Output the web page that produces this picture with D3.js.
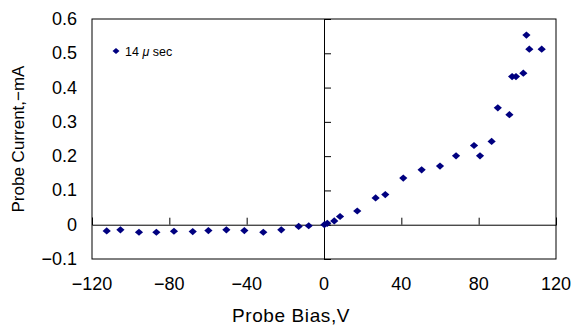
<!DOCTYPE html>
<html>
<head>
<meta charset="utf-8">
<script src="https://cdn.jsdelivr.net/npm/d3@7"></script>
<style>
  body { margin: 0; background: #fff; }
  text { font-family: "Liberation Sans", Arial, sans-serif; fill: #000; }
</style>
</head>
<body>
<div class="canvas"></div>
<script>
// probe bias (V) and probe current (mA)
const bias = [-112.4, -105.3, -95.7, -86.7, -77.6, -67.9, -59.8, -50.5, -41.2, -31.4, -22.1, -13.1, -7.9,
  0.2, 1.7, 5.3, 8.3, 17.2, 26.7, 31.7, 41.0, 50.5, 60.0, 68.3, 77.6, 80.7, 86.7, 89.9, 95.9, 97.3, 99.3,
  103.1, 104.7, 106.2, 112.6];
const current = [-0.018, -0.015, -0.022, -0.022, -0.019, -0.020, -0.017, -0.015, -0.017, -0.022, -0.015, -0.005, -0.003,
  0.000, 0.004, 0.011, 0.024, 0.040, 0.078, 0.088, 0.136, 0.160, 0.171, 0.201, 0.231, 0.201, 0.243, 0.341, 0.321, 0.432, 0.432,
  0.442, 0.553, 0.512, 0.512];
const xTicks = [-120, -80, -40, 0, 40, 80, 120];
const yTicks = [-0.1, 0, 0.1, 0.2, 0.3, 0.4, 0.5, 0.6];

const width = 575, height = 327;
const margin = {top: 19, right: 19, bottom: 68, left: 92};
const graphWidth = width - margin.left - margin.right;
const graphHeight = height - margin.top - margin.bottom;

const svg = d3.select('.canvas')
  .append('svg')
    .attr('width', width)
    .attr('height', height);

const graph = svg.append('g')
  .attr('transform', `translate(${margin.left}, ${margin.top})`);

const x = d3.scaleLinear().domain([-120, 120]).range([0, graphWidth]);
const y = d3.scaleLinear().domain([-0.1, 0.6]).range([graphHeight, 0]);

const fmt = d => d < 0 ? '\u2212' + Math.abs(d) : String(d);

// plot frame
graph.append('rect')
  .attr('width', graphWidth)
  .attr('height', graphHeight)
  .attr('fill', 'none')
  .attr('stroke', '#000')
  .attr('stroke-width', 1);

// axes crossing at zero, ticks pointing inward
const xAxisGroup = graph.append('g')
  .attr('transform', `translate(0, ${y(0)})`)
  .call(d3.axisTop(x).tickValues(xTicks).tickSize(7).tickFormat(''));
const yAxisGroup = graph.append('g')
  .attr('transform', `translate(${x(0)}, 0)`)
  .call(d3.axisRight(y).tickValues(yTicks).tickSize(7).tickFormat(''));
[xAxisGroup, yAxisGroup].forEach(g => {
  g.select('.domain').attr('stroke', '#000');
  g.selectAll('.tick line').attr('stroke', '#000');
});

// tick labels on the frame edges
graph.selectAll('.xlab')
  .data(xTicks)
  .enter().append('text')
    .attr('x', d => x(d))
    .attr('y', graphHeight + 31)
    .attr('text-anchor', 'middle')
    .attr('font-size', 18)
    .text(fmt);

graph.selectAll('.ylab')
  .data(yTicks)
  .enter().append('text')
    .attr('x', -15)
    .attr('y', d => y(d) + 6)
    .attr('text-anchor', 'end')
    .attr('font-size', 18)
    .text(fmt);

// points (squat diamonds like the original)
const diamond = r => `M0,${-r}L${r + 0.5},0L0,${r}L${-r - 0.5},0Z`;
graph.selectAll('path.pt')
  .data(bias.map((b, i) => ({b, c: current[i]})))
  .enter().append('path')
    .attr('class', 'pt')
    .attr('d', diamond(3.6))
    .attr('fill', '#000080')
    .attr('transform', d => `translate(${x(d.b)}, ${y(d.c)})`);

// legend
graph.append('path')
  .attr('d', diamond(3))
  .attr('fill', '#000080')
  .attr('transform', 'translate(24, 32)');
const leg = graph.append('text')
  .attr('x', 33)
  .attr('y', 37)
  .attr('font-size', 12.5);
leg.append('tspan').text('14 ');
leg.append('tspan').attr('font-style', 'italic').text('\u03bc');
leg.append('tspan').text(' sec');

// axis titles
svg.append('text')
  .attr('x', 291)
  .attr('y', 322)
  .attr('text-anchor', 'middle')
  .attr('font-size', 19)
  .attr('letter-spacing', 0.6)
  .text('Probe Bias,V');

svg.append('text')
  .attr('transform', 'translate(24, 139) rotate(-90)')
  .attr('text-anchor', 'middle')
  .attr('font-size', 17)
  .text('Probe Current,\u2212mA');
</script>
</body>
</html>
